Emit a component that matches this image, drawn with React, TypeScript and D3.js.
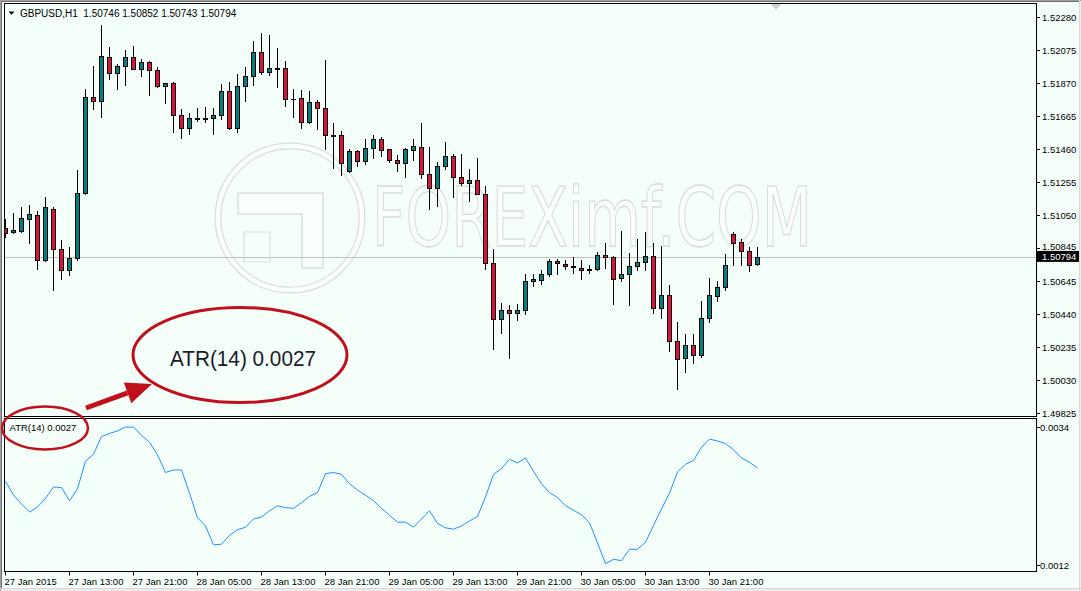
import React from "react";
import * as d3 from "d3";

// ---- data (GBPUSD H1, bars from 27 Jan 2015 05:00) ----
const timeLabels = [
  "27 Jan 2015", "27 Jan 13:00", "27 Jan 21:00", "28 Jan 05:00", "28 Jan 13:00", "28 Jan 21:00",
  "29 Jan 05:00", "29 Jan 13:00", "29 Jan 21:00", "30 Jan 05:00", "30 Jan 13:00", "30 Jan 21:00",
];
const timeLabelBars = [0, 8, 16, 24, 32, 40, 48, 56, 64, 72, 80, 88];

const openP = [
  1.50970, 1.50945, 1.50951, 1.51029, 1.51051, 1.50773, 1.51091, 1.50840, 1.50711, 1.50784,
  1.51187, 1.51782, 1.51757, 1.52030, 1.51931, 1.51976, 1.52030, 1.51959, 1.51999, 1.51950,
  1.51850, 1.51869, 1.51671, 1.51590, 1.51646, 1.51652, 1.51652, 1.51671, 1.51819, 1.51590,
  1.51850, 1.51912, 1.52061, 1.51937, 1.51962, 1.51962, 1.51774, 1.51776, 1.51627, 1.51753,
  1.51714, 1.51547, 1.51547, 1.51323, 1.51447, 1.51385, 1.51466, 1.51524, 1.51460, 1.51392,
  1.51373, 1.51454, 1.51472, 1.51305, 1.51218, 1.51354, 1.51416, 1.51286, 1.51249, 1.51268,
  1.51181, 1.50753, 1.50406, 1.50462, 1.50443, 1.50462, 1.50641, 1.50647, 1.50685, 1.50765,
  1.50747, 1.50734, 1.50722, 1.50710, 1.50716, 1.50803, 1.50790, 1.50660, 1.50685, 1.50734,
  1.50759, 1.50796, 1.50474, 1.50555, 1.50269, 1.50164, 1.50245, 1.50183, 1.50412, 1.50548,
  1.50604, 1.50936, 1.50883, 1.50827, 1.50746,
];
const highP = [
  1.51026, 1.51067, 1.51100, 1.51114, 1.51077, 1.51162, 1.51100, 1.50897, 1.50852, 1.51331,
  1.51832, 1.51976, 1.52230, 1.52096, 1.51989, 1.52075, 1.52100, 1.52018, 1.52005, 1.51968,
  1.51871, 1.51877, 1.51708, 1.51683, 1.51716, 1.51720, 1.51716, 1.51863, 1.51877, 1.51925,
  1.51970, 1.52129, 1.52179, 1.52170, 1.52086, 1.52007, 1.51832, 1.51827, 1.51821, 1.51765,
  1.52013, 1.51621, 1.51573, 1.51462, 1.51455, 1.51524, 1.51548, 1.51534, 1.51462, 1.51423,
  1.51466, 1.51524, 1.51621, 1.51474, 1.51379, 1.51503, 1.51429, 1.51429, 1.51336, 1.51408,
  1.51230, 1.50840, 1.50507, 1.50494, 1.50500, 1.50685, 1.50685, 1.50711, 1.50781, 1.50781,
  1.50772, 1.50792, 1.50772, 1.50741, 1.50821, 1.50879, 1.50796, 1.50953, 1.50817, 1.50902,
  1.50947, 1.50877, 1.50858, 1.50617, 1.50387, 1.50313, 1.50313, 1.50517, 1.50660, 1.50641,
  1.50809, 1.50947, 1.50902, 1.50852, 1.50852,
];
const lowP = [
  1.50918, 1.50939, 1.50948, 1.50877, 1.50716, 1.50770, 1.50587, 1.50654, 1.50679, 1.50773,
  1.51185, 1.51708, 1.51658, 1.51897, 1.51832, 1.51860, 1.51956, 1.51916, 1.51798, 1.51848,
  1.51749, 1.51569, 1.51528, 1.51553, 1.51633, 1.51627, 1.51553, 1.51646, 1.51584, 1.51565,
  1.51761, 1.51860, 1.51925, 1.51920, 1.51848, 1.51730, 1.51658, 1.51590, 1.51625, 1.51584,
  1.51460, 1.51346, 1.51299, 1.51320, 1.51358, 1.51367, 1.51404, 1.51416, 1.51383, 1.51327,
  1.51290, 1.51392, 1.51280, 1.51091, 1.51106, 1.51336, 1.51162, 1.51237, 1.51137, 1.51180,
  1.50716, 1.50220, 1.50319, 1.50164, 1.50400, 1.50440, 1.50610, 1.50623, 1.50672, 1.50689,
  1.50716, 1.50691, 1.50654, 1.50691, 1.50714, 1.50726, 1.50499, 1.50641, 1.50493, 1.50711,
  1.50709, 1.50447, 1.50412, 1.50207, 1.49975, 1.50077, 1.50133, 1.50170, 1.50391, 1.50517,
  1.50586, 1.50741, 1.50741, 1.50703, 1.50743,
];
const closeP = [
  1.50939, 1.50958, 1.51032, 1.51057, 1.50773, 1.51100, 1.50840, 1.50711, 1.50784, 1.51187,
  1.51782, 1.51757, 1.52038, 1.51931, 1.51976, 1.52030, 1.51959, 1.51999, 1.51950, 1.51850,
  1.51869, 1.51671, 1.51590, 1.51652, 1.51652, 1.51650, 1.51671, 1.51819, 1.51590, 1.51850,
  1.51912, 1.52061, 1.51937, 1.51962, 1.51960, 1.51770, 1.51772, 1.51627, 1.51753, 1.51714,
  1.51547, 1.51545, 1.51373, 1.51447, 1.51385, 1.51468, 1.51524, 1.51454, 1.51392, 1.51373,
  1.51462, 1.51478, 1.51305, 1.51218, 1.51354, 1.51416, 1.51286, 1.51249, 1.51268, 1.51181,
  1.50753, 1.50406, 1.50462, 1.50443, 1.50462, 1.50641, 1.50654, 1.50685, 1.50765, 1.50753,
  1.50734, 1.50728, 1.50710, 1.50716, 1.50803, 1.50790, 1.50654, 1.50685, 1.50734, 1.50759,
  1.50796, 1.50474, 1.50555, 1.50269, 1.50158, 1.50245, 1.50183, 1.50412, 1.50555, 1.50604,
  1.50741, 1.50877, 1.50827, 1.50741, 1.50794,
];
const atr14 = [
  0.00253, 0.00231, 0.00217, 0.00204, 0.00212, 0.00226, 0.00244, 0.00243, 0.00222, 0.00241,
  0.00285, 0.00296, 0.00324, 0.00329, 0.00333, 0.00339, 0.00339, 0.00326, 0.00315, 0.00295,
  0.00267, 0.00271, 0.00271, 0.00234, 0.00195, 0.00182, 0.00152, 0.00153, 0.00167, 0.00176,
  0.00180, 0.00193, 0.00196, 0.00206, 0.00214, 0.00211, 0.00210, 0.00219, 0.00229, 0.00235,
  0.00265, 0.00267, 0.00264, 0.00249, 0.00239, 0.00231, 0.00222, 0.00210, 0.00199, 0.00188,
  0.00188, 0.00180, 0.00193, 0.00206, 0.00186, 0.00179, 0.00177, 0.00182, 0.00190, 0.00197,
  0.00228, 0.00264, 0.00273, 0.00288, 0.00282, 0.00290, 0.00269, 0.00249, 0.00235, 0.00227,
  0.00214, 0.00207, 0.00200, 0.00187, 0.00155, 0.00122, 0.00129, 0.00127, 0.00145, 0.00145,
  0.00156, 0.00183, 0.00209, 0.00234, 0.00268, 0.00280, 0.00286, 0.00307, 0.00320, 0.00317,
  0.00313, 0.00303, 0.00290, 0.00283, 0.00274,
];
const priceTicks = [
  "1.52280", "1.52075", "1.51870", "1.51665", "1.51460", "1.51255", "1.51050",
  "1.50845", "1.50645", "1.50440", "1.50235", "1.50030", "1.49825",
];
const atrTicks = ["0.0034", "0.0012"];
const headerSymbol = "GBPUSD,H1";
const headerValues = ["1.50746", "1.50852", "1.50743", "1.50794"];
const lastPrice = 1.50794;
const atrName = "ATR(14)";
const atrCurrent = "0.0027";

const FONT = "'Liberation Sans', Arial, sans-serif";
const BULL = "#008080";
const BEAR = "#DC143C";
const ANNOT = "#C0101C";
const BG = "#F5FFFA";

export default function App() {
  const n = openP.length;
  const x = d3.scaleLinear().domain([0, n - 1]).range([5.5, 757.5]);
  const yP = d3.scaleLinear().domain([1.49825, 1.5228]).range([413, 17]);
  const yA = d3.scaleLinear().domain([0.0012, 0.0034]).range([565, 426.5]);

  const atrLine = d3
    .line<number>()
    .x((_, i) => x(i))
    .y((v) => yA(v));

  const crisp = (v: number) => Math.round(v) + 0.5;

  // arrow geometry (annotation)
  const ax0 = 86, ay0 = 408, tipX = 152, tipY = 384;
  const dx = tipX - ax0, dy = tipY - ay0;
  const len = Math.hypot(dx, dy);
  const ux = dx / len, uy = dy / len;
  const headL = 26, headW = 11;
  const bx = tipX - ux * headL, by = tipY - uy * headL;
  const nx = -uy, ny = ux;

  const header = `${headerSymbol}  ${headerValues.join(" ")}`;
  const annotText = `${atrName} ${atrCurrent}`;
  const boxTop = yP(lastPrice) - 5.8;

  return (
    <svg
      width={1081}
      height={591}
      style={{ position: "absolute", left: 0, top: 0, display: "block" }}
      fontFamily={FONT}
    >
      <defs>
        <clipPath id="mainClip">
          <rect x={5} y={4} width={1031} height={412} />
        </clipPath>
        <clipPath id="atrClip">
          <rect x={5} y={419} width={1031} height={152} />
        </clipPath>
      </defs>

      {/* window background & frame */}
      <rect x={0} y={0} width={1081} height={591} fill="#ECECEC" />
      <rect x={2} y={2} width={1077} height={586} fill={BG} />
      <line x1={0} y1={0.5} x2={1081} y2={0.5} stroke="#A0A0A0" />
      <line x1={0.5} y1={0} x2={0.5} y2={591} stroke="#A0A0A0" />
      <line x1={1.5} y1={1.5} x2={1080} y2={1.5} stroke="#6E6E6E" />
      <line x1={1.5} y1={1.5} x2={1.5} y2={588} stroke="#6E6E6E" />
      <line x1={0} y1={588.5} x2={1081} y2={588.5} stroke="#D8D8D8" />
      <line x1={1079.5} y1={0} x2={1079.5} y2={591} stroke="#D8D8D8" />

      {/* watermark */}
      <g opacity={0.8}>
        <circle cx={290} cy={218} r={72} fill="none" stroke="#D6D6D6" strokeWidth={7} />
        <circle cx={290} cy={218} r={72} fill="none" stroke="#FAFFFC" strokeWidth={4.5} />
        <path
          d="M238,193 L323,193 L323,268 L302,268 L302,214 L238,214 Z"
          fill="#FAFFFC"
          stroke="#D6D6D6"
          strokeWidth={1.5}
        />
        <path
          d="M244,232 L270,232 L270,262 L244,262 Z"
          fill="none"
          stroke="#D6D6D6"
          strokeWidth={1.2}
        />
        <text
          x={372}
          y={246}
          fontSize={82}
          textLength={440}
          lengthAdjust="spacingAndGlyphs"
          fill="#FAFFFC"
          stroke="#D2D2D2"
          strokeWidth={1.3}
          fontFamily="'DejaVu Sans', sans-serif"
        >
          FOREXimf.COM
        </text>
      </g>

      {/* main panel */}
      <line x1={5} x2={1036} y1={crisp(yP(lastPrice))} y2={crisp(yP(lastPrice))} stroke="#C0C0C0" />
      <g clipPath="url(#mainClip)">
        {openP.map((o, i) => {
          const c = closeP[i];
          const cx = x(i);
          const bull = c >= o;
          const yT = crisp(yP(Math.max(o, c)));
          const yB = crisp(yP(Math.min(o, c)));
          const yH = Math.round(yP(highP[i]));
          const yL = Math.round(yP(lowP[i])) + 1;
          return (
            <g key={i}>
              <line x1={cx} x2={cx} y1={yH} y2={yL} stroke="#000" strokeWidth={1} />
              {yB - yT < 1 ? (
                <line x1={cx - 2.5} x2={cx + 2.5} y1={yT} y2={yT} stroke="#000" strokeWidth={1} />
              ) : (
                <rect
                  x={cx - 2}
                  y={yT}
                  width={4}
                  height={yB - yT}
                  fill={bull ? BULL : BEAR}
                  stroke="#000"
                  strokeWidth={1}
                />
              )}
            </g>
          );
        })}
      </g>

      {/* header */}
      <path d="M8.5,11.5 L14.5,11.5 L11.5,14.8 Z" fill="#000" />
      <text x={20} y={16.5} fontSize={10} fill="#000" style={{ whiteSpace: "pre" }}>
        {header}
      </text>
      {/* chart shift marker */}
      <path d="M770,3 L782,3 L776,10 Z" fill="#CFCFCF" />

      {/* panel frames */}
      <rect x={4.5} y={3.5} width={1032} height={413} fill="none" stroke="#000" />
      <rect x={4.5} y={418.5} width={1032} height={153} fill="none" stroke="#000" />

      {/* price axis */}
      {priceTicks.map((t) => {
        const yy = crisp(yP(+t));
        // keep the label just above the current-price box when they would collide
        const ty = Math.abs(yy - yP(lastPrice)) < 12 ? Math.min(yy + 3.5, boxTop - 1) : yy + 3.5;
        return (
          <g key={t}>
            <line x1={1036} x2={1040} y1={yy} y2={yy} stroke="#000" />
            <text x={1042} y={ty} fontSize={9.5} fill="#000">
              {t}
            </text>
          </g>
        );
      })}
      <rect x={1037} y={boxTop} width={42} height={11} fill="#000" />
      <text x={1042} y={yP(lastPrice) + 3.5} fontSize={9.5} fill="#FFF">
        {lastPrice.toFixed(5)}
      </text>

      {/* ATR panel */}
      <g clipPath="url(#atrClip)">
        <path d={atrLine(atr14) || ""} fill="none" stroke="#1E90FF" strokeWidth={1} />
      </g>
      <text x={9.5} y={431} fontSize={9.5} fill="#000">
        {`${atrName} ${atrCurrent}`}
      </text>
      {atrTicks.map((t) => {
        const yy = crisp(yA(+t));
        return (
          <g key={t}>
            <line x1={1036} x2={1040} y1={yy} y2={yy} stroke="#000" />
            <text x={1040} y={yy + 3.5} fontSize={9.5} fill="#000">
              {t}
            </text>
          </g>
        );
      })}

      {/* time axis */}
      {timeLabels.map((t, k) => {
        const xx = x(timeLabelBars[k]);
        return (
          <g key={t}>
            <line x1={xx} x2={xx} y1={571.5} y2={575.5} stroke="#000" />
            <text x={xx - 1} y={584.5} fontSize={9.5} fill="#000">
              {t}
            </text>
          </g>
        );
      })}

      {/* annotations */}
      <ellipse cx={45} cy={428} rx={43} ry={21.5} fill="none" stroke={ANNOT} strokeWidth={2.5} />
      <ellipse cx={240} cy={355} rx={107} ry={47.5} fill="none" stroke={ANNOT} strokeWidth={3} />
      <text
        x={170}
        y={365.5}
        fontSize={22}
        textLength={146}
        lengthAdjust="spacingAndGlyphs"
        fill="#1A1A2A"
      >
        {annotText}
      </text>
      <line x1={ax0} y1={ay0} x2={bx} y2={by} stroke={ANNOT} strokeWidth={5} />
      <path
        d={`M${tipX},${tipY} L${bx + nx * headW},${by + ny * headW} L${bx - nx * headW},${by - ny * headW} Z`}
        fill={ANNOT}
      />
    </svg>
  );
}
